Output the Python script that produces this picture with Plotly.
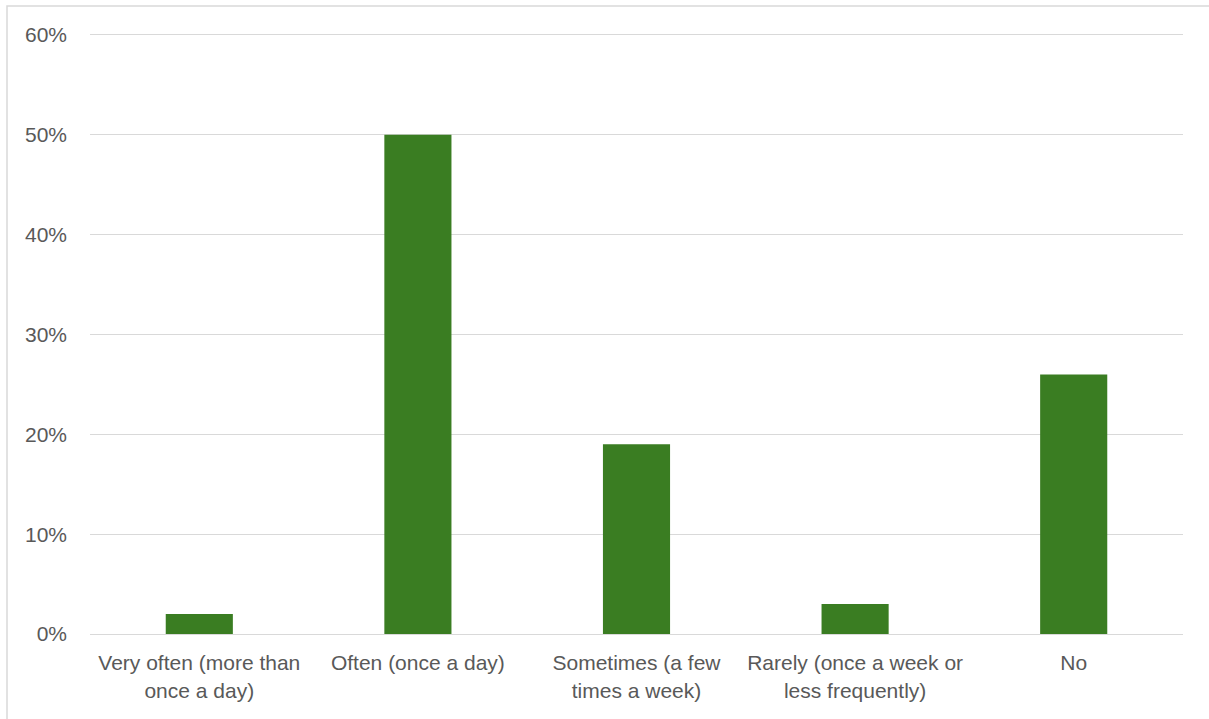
import plotly.graph_objects as go

categories = [
    "Very often (more than<br>once a day)",
    "Often (once a day)",
    "Sometimes (a few<br>times a week)",
    "Rarely (once a week or<br>less frequently)",
    "No",
]
shares = [0.02, 0.50, 0.19, 0.03, 0.26]
tick_values = [0, 0.1, 0.2, 0.3, 0.4, 0.5, 0.6]

W, H = 1209, 719
L, R, T, B = 90, 26, 25, 85
pw, ph = W - L - R, H - T - B

fig = go.Figure(
    go.Bar(
        x=categories,
        y=shares,
        marker=dict(color="#3a7d22", line=dict(width=0)),
        hoverinfo="x+y",
    )
)

fig.update_layout(
    width=W,
    height=H,
    margin=dict(l=L, r=R, t=T, b=B),
    paper_bgcolor="white",
    plot_bgcolor="white",
    bargap=0.693,
    showlegend=False,
    font=dict(family="Liberation Sans, Arial, sans-serif", size=21, color="#595959"),
    xaxis=dict(
        showgrid=False,
        showline=True,
        linecolor="#d9d9d9",
        linewidth=1,
        ticks="",
        tickfont=dict(size=21, color="#595959"),
        ticklabelstandoff=10,
        fixedrange=True,
    ),
    yaxis=dict(
        range=[0, 0.61],
        tickvals=tick_values,
        tickformat=".0%",
        showgrid=True,
        gridcolor="#d9d9d9",
        gridwidth=1,
        zeroline=False,
        showline=False,
        ticks="",
        tickfont=dict(size=21, color="#595959"),
        ticklabelstandoff=22,
        fixedrange=True,
    ),
    shapes=[
        dict(
            type="rect",
            xref="paper",
            yref="paper",
            x0=(7 - L) / pw,
            x1=(W + 10 - L) / pw,
            y0=-(B + 10) / ph,
            y1=(H - B - 6) / ph,
            line=dict(color="#d9d9d9", width=1.5),
            fillcolor="rgba(0,0,0,0)",
            layer="below",
        )
    ],
)

fig.write_html("out.html")
